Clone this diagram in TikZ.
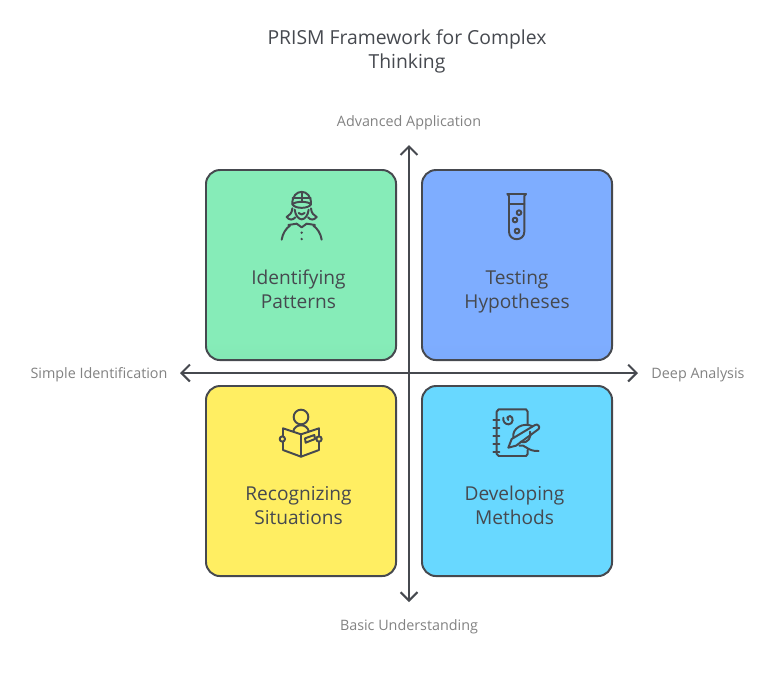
\documentclass[tikz,border=0pt]{standalone}
\usepackage{fontspec}
\setmainfont{Open Sans}
\usetikzlibrary{arrows.meta}
\definecolor{mink}{HTML}{46494F}
\definecolor{mgrey}{HTML}{828282}
\definecolor{mgreen}{HTML}{86ECB8}
\definecolor{mblue}{HTML}{7EADFF}
\definecolor{myellow}{HTML}{FFEE62}
\definecolor{mcyan}{HTML}{68D8FF}
\pgfdeclareverticalshading{greenfade}{100bp}{color(0bp)=(mgreen!90!green!70!black); color(14bp)=(mgreen!95!black); color(30bp)=(mgreen); color(100bp)=(mgreen)}
\pgfdeclareverticalshading{bluefade}{100bp}{color(0bp)=(mblue!93!black); color(14bp)=(mblue!96!black); color(30bp)=(mblue); color(100bp)=(mblue)}
\tikzset{card/.style = {draw=mink, line width=1.4pt, rounded corners=10pt, outer sep=0pt,
                        minimum width=4.75cm, minimum height=4.75cm, anchor=north west}}
\tikzset{cardtext/.style = {text=mink, font=\fontsize{13.6}{17}\selectfont, align=center}}
\tikzset{axislabel/.style = {text=mgrey, font=\fontsize{10.2}{12}\selectfont}}
\tikzset{axis/.style = {draw=mink, line width=1.4pt, {Straight Barb[length=6pt,width=12pt]}-{Straight Barb[length=6pt,width=12pt]}}}
\tikzset{icon/.style = {draw=mink, line width=1.4pt, line cap=round, line join=round}}
\begin{document}
\begin{tikzpicture}[x=0.025cm, y=-0.025cm]
    \useasboundingbox (0, 0) rectangle (782, 686);

    \node [text=mink, font=\fontsize{13.75}{17}\selectfont, align=center] (title) at (407, 51.5) {PRISM Framework for Complex\\Thinking};

    % the four quadrants
    \node [card, shading=greenfade] (patterns) at (206, 170) {};
    \node [card, shading=bluefade] (hypotheses) at (422, 170) {};
    \node [card, fill=myellow] (situations) at (206, 386) {};
    \node [card, fill=mcyan] (methods) at (422, 386) {};

    \node [cardtext] (patternstext) at (298.5, 289) {Identifying\\Patterns};
    \node [cardtext] (hypothesestext) at (517, 292) {Testing\\Hypotheses};
    \node [cardtext] (situationstext) at (298.5, 505.5) {Recognizing\\Situations};
    \node [cardtext] (methodstext) at (514.5, 505) {Developing\\Methods};

    % axes and their labels
    \coordinate (top) at (409, 145);
    \coordinate (bottom) at (409, 602);
    \coordinate (left) at (180, 373);
    \coordinate (right) at (638, 373);
    \draw [axis] (bottom) -- (top);
    \draw [axis] (left) -- (right);

    \node [axislabel] (advanced) at (409, 123) {Advanced Application};
    \node [axislabel] (basic) at (409, 627) {Basic Understanding};
    \node [axislabel] (simple) at (99, 375) {Simple Identification};
    \node [axislabel] (deep) at (698, 375) {Deep Analysis};

    % girl with cap
    \begin{scope}[shift={(260, 175)}, x=0.00833cm, y=-0.00833cm]
        \draw [icon] (97, 88) .. controls (95, 38) and (155, 38) .. (153, 88);
        \draw [icon] (97, 88) .. controls (105, 78) and (145, 78) .. (153, 88) .. controls (145, 102) and (105, 102) .. (97, 88);
        \draw [icon] (125, 54) -- (125, 80);
        \draw [icon] (98, 70) -- (152, 70);
        \draw [icon] (104, 104) .. controls (106, 122) and (116, 133) .. (125, 133) .. controls (134, 133) and (144, 122) .. (146, 104);
        \draw [icon] (116, 114) .. controls (120, 120) and (130, 120) .. (134, 114);
        \draw [icon] (97, 100) .. controls (96, 116) and (88, 120) .. (80, 126) .. controls (88, 136) and (98, 136) .. (106, 127);
        \draw [icon] (153, 100) .. controls (154, 116) and (162, 120) .. (170, 126) .. controls (162, 136) and (152, 136) .. (144, 127);
        \draw [icon] (110, 146) -- (125, 157) -- (140, 146);
        \draw [icon] (110, 146) -- (85, 150);
        \draw [icon] (140, 146) -- (165, 150);
        \draw [icon] (90, 152) .. controls (78, 160) and (68, 175) .. (65, 194);
        \draw [icon] (160, 152) .. controls (172, 160) and (182, 175) .. (185, 194);
        \fill [mink] (125, 173) circle (4) (125, 192) circle (4);
    \end{scope}

    % test tube
    \begin{scope}[shift={(480, 180)}, x=0.00833cm, y=-0.00833cm]
        \draw [icon] (82, 42) -- (138, 42) -- (133, 48) -- (133, 155) .. controls (133, 185) and (87, 185) .. (87, 155) -- (87, 48) -- cycle;
        \draw [icon] (87, 72) -- (133, 72);
        \draw [icon] (117, 98) circle (7);
        \draw [icon] (105, 120) circle (7);
        \draw [icon] (111, 153) circle (7);
    \end{scope}

    % reader with open book
    \begin{scope}[shift={(265, 395)}, x=0.00833cm, y=-0.00833cm]
        \draw [icon] (108, 66) circle (22);
        \draw [icon] (85, 108) .. controls (90, 85) and (126, 85) .. (131, 108);
        \draw [icon] (108, 118) -- (54, 100) -- (54, 165) -- (108, 185) -- (162, 165) -- (162, 100) -- cycle;
        \draw [icon] (108, 118) -- (108, 185);
        \draw [icon, fill=myellow] (52, 132) circle (8);
        \draw [icon, fill=myellow] (162, 132) circle (8);
        \draw [icon] (120, 130) -- (148, 120) -- (150, 132) -- (122, 143) -- cycle;
    \end{scope}

    % notebook and pen
    \begin{scope}[shift={(480, 395)}, x=0.00833cm, y=-0.00833cm]
        \draw [icon] (143, 88) -- (143, 50) -- (138, 43) -- (56, 43) -- (50, 50) -- (50, 177) -- (56, 183) -- (138, 183) -- (143, 177) -- (143, 165);
        \foreach \y in {75, 98, 122, 147, 172}
            \draw [icon] (40, \y) -- (58, \y);
        \draw [icon] (85, 75) .. controls (78, 72) and (82, 62) .. (90, 63) .. controls (102, 65) and (100, 88) .. (86, 88) .. controls (76, 88) and (68, 80) .. (70, 68);
        \draw [icon] (85, 158) -- (95, 132) -- (165, 90) .. controls (172, 85) and (182, 95) .. (176, 102) -- (108, 152) -- cycle;
        \draw [icon] (100, 128) .. controls (95, 100) and (130, 80) .. (158, 94);
        \draw [icon] (122, 140) .. controls (145, 148) and (155, 125) .. (150, 110);
        \draw [icon] (118, 152) .. controls (135, 145) and (140, 170) .. (176, 168);
    \end{scope}
\end{tikzpicture}
\end{document}
